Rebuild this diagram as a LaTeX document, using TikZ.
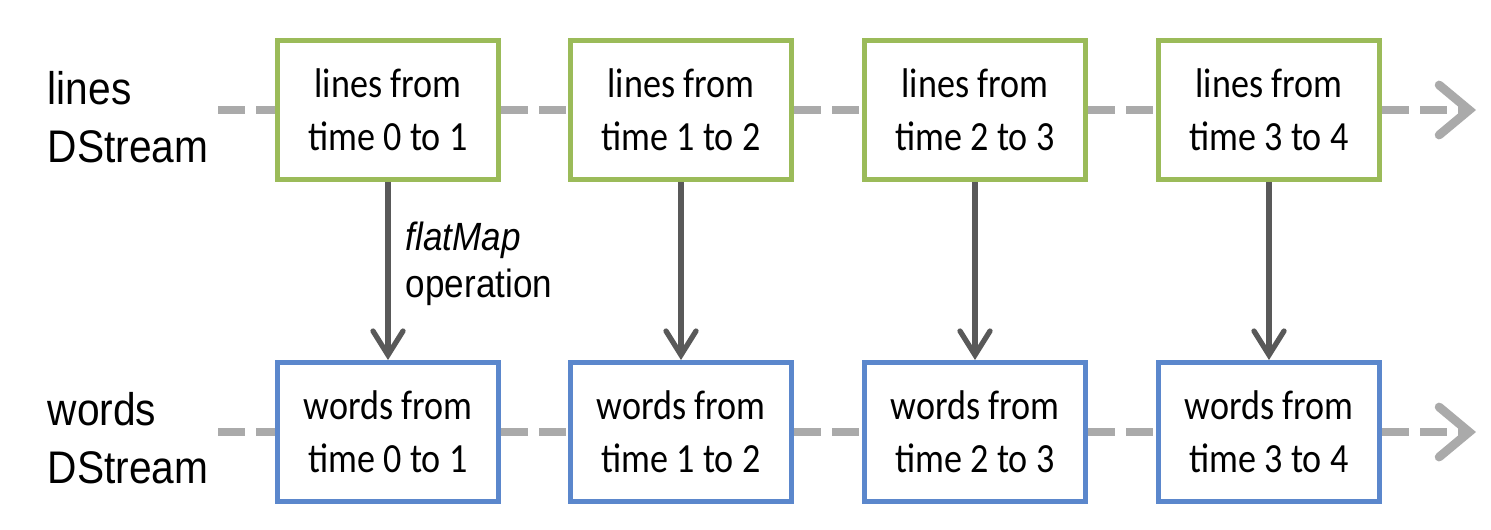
\documentclass[tikz,border=0pt]{standalone}
\usepackage{fontspec}
\setmainfont{Carlito}[FakeStretch=0.87]
\newfontfamily\arialfont{Liberation Sans}[FakeStretch=0.89]
\usetikzlibrary{arrows.meta,positioning}

\definecolor{linegreen}{RGB}{155,187,89}
\definecolor{wordblue}{RGB}{91,135,204}
\definecolor{streamgray}{RGB}{170,170,170}
\definecolor{flowgray}{RGB}{89,89,89}

\tikzset{
  batch/.style={draw,line width=1.4pt,fill=white,minimum width=2.21cm,minimum height=1.39cm,
    align=center,inner sep=0pt,font=\fontsize{11.8}{15}\selectfont},
  linebatch/.style={batch,draw=linegreen},
  wordbatch/.style={batch,draw=wordblue},
  stream/.style={draw=streamgray,line width=2.5pt,dash pattern=on 0.27cm off 0.11cm},
  streamend/.style={stream,-{Straight Barb[length=0.3cm,width=0.5cm,line cap=round]}},
  flow/.style={draw=flowgray,line width=1.5pt,-{Straight Barb[length=0.24cm,width=0.3cm,line cap=round]}},
  dlabel/.style={align=left,inner sep=0pt,font=\arialfont\fontsize{13}{16.5}\selectfont}
}

\begin{document}
\begin{tikzpicture}[x=0.01cm,y=-0.01cm]
    \useasboundingbox (0,0) rectangle (1491,529);
    % stream names
    \node[dlabel,anchor=west] (lname) at (47,117) {lines\\DStream};
    \node[dlabel,anchor=west] (wname) at (47,438) {words\\DStream};
    % batches of both streams
    \foreach \i/\x/\t in {1/388/0 to 1,2/681/1 to 2,3/975/2 to 3,4/1269/3 to 4}{
      \node[linebatch] (l\i) at (\x,110) {lines from\\time \t};
      \node[wordbatch] (w\i) at (\x,432) {words from\\time \t};
    }
    % free ends of the streams
    \coordinate (ls) at (218,110);
    \coordinate (le) at (1476,110);
    \coordinate (ws) at (218,432);
    \coordinate (we) at (1476,432);
    % dashed time lines
    \draw[stream] (ls) -- (l1.west);
    \draw[stream] (ws) -- (w1.west);
    \foreach \i/\j in {1/2,2/3,3/4}{
      \draw[stream] (l\i.east) -- (l\j.west);
      \draw[stream] (w\i.east) -- (w\j.west);
    }
    \draw[streamend] (l4.east) -- (le);
    \draw[streamend] (w4.east) -- (we);
    % flatMap arrows
    \draw[flow] (l1) -- (w1) node[midway,anchor=west,xshift=1pt,yshift=2pt,align=left,
      font=\arialfont\fontsize{11.2}{13.5}\selectfont] (op) {\textit{flatMap}\\operation};
    \foreach \i in {2,3,4}{
      \draw[flow] (l\i) -- (w\i);
    }
\end{tikzpicture}
\end{document}
